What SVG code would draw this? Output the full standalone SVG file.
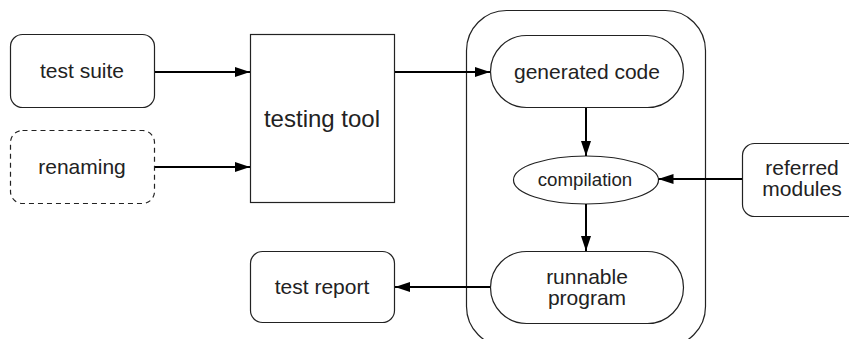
<svg xmlns="http://www.w3.org/2000/svg" width="849" height="339" viewBox="0 0 849 339">
<defs>
<style>
.box{fill:#fff;stroke:#222;stroke-width:1.2}
.dash{stroke-dasharray:5 4}
.lbl{font-family:"Liberation Sans",Arial,sans-serif;font-size:21px;fill:#222;text-anchor:middle}
.con{stroke:#000;stroke-width:2;fill:none;marker-end:url(#ah)}
</style>
<marker id="ah" viewBox="0 0 15 10" refX="15" refY="5" markerWidth="15" markerHeight="10" markerUnits="userSpaceOnUse" orient="auto">
<path d="M0,0 L15,5 L0,10 Z" fill="#000"/>
</marker>
</defs>
<rect width="849" height="339" fill="#fff"/>
<g id="container"><rect class="box" x="466.5" y="10.5" width="239" height="336" rx="40" ry="40"/></g>
<g id="test-suite"><rect class="box" x="10.5" y="34.5" width="144" height="73" rx="12"/><text class="lbl" x="82" y="78">test suite</text></g>
<g id="renaming"><rect class="box dash" x="10.5" y="130.5" width="144" height="73" rx="12"/><text class="lbl" x="82" y="174">renaming</text></g>
<g id="testing-tool"><rect class="box" x="250.5" y="34.5" width="144" height="168"/><text class="lbl" x="322" y="127" style="font-size:24px">testing tool</text></g>
<g id="generated-code"><rect class="box" x="490.5" y="35.5" width="193" height="72" rx="36"/><text class="lbl" x="587" y="78.5">generated code</text></g>
<g id="compilation"><ellipse class="box" cx="586" cy="180" rx="72.5" ry="24"/><text class="lbl" x="585" y="186" style="font-size:18.7px">compilation</text></g>
<g id="runnable-program"><rect class="box" x="490.5" y="251.5" width="193" height="72" rx="36"/><text class="lbl" x="587" y="283.5">runnable</text><text class="lbl" x="587" y="305">program</text></g>
<g id="referred-modules"><rect class="box" x="742.5" y="143.5" width="120" height="73" rx="12"/><text class="lbl" x="802" y="175">referred</text><text class="lbl" x="802" y="196">modules</text></g>
<g id="test-report"><rect class="box" x="250.5" y="251.5" width="144" height="71" rx="12"/><text class="lbl" x="322" y="294">test report</text></g>
<g id="connectors">
<line class="con" x1="155" y1="72" x2="250" y2="72"/>
<line class="con" x1="155" y1="167" x2="250" y2="167"/>
<line class="con" x1="395" y1="72" x2="490" y2="72"/>
<line class="con" x1="586" y1="108" x2="586" y2="156"/>
<line class="con" x1="586" y1="204" x2="586" y2="251"/>
<line class="con" x1="742" y1="179" x2="658.5" y2="179"/>
<line class="con" x1="490" y1="287" x2="395" y2="287"/>
</g>
</svg>
